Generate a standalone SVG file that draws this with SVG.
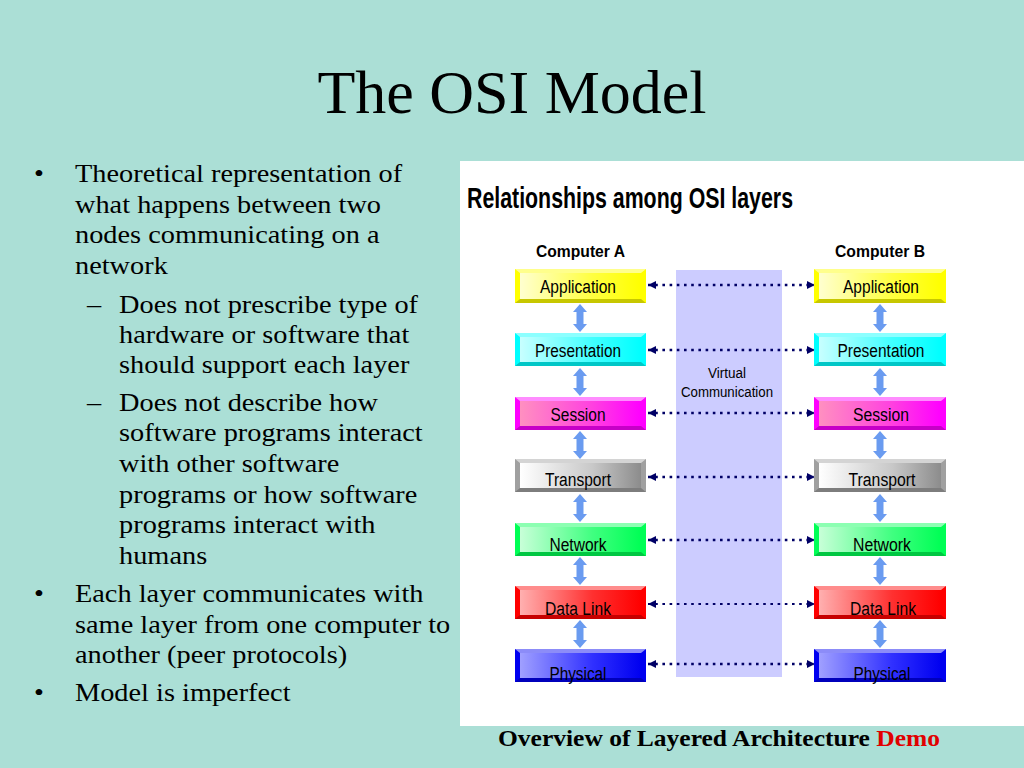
<svg xmlns="http://www.w3.org/2000/svg" width="1024" height="768" viewBox="0 0 1024 768">
<defs>
<style>
.bg{fill:#ABDFD6}
.title{font-family:"Liberation Serif","Times New Roman",serif;font-size:62px;fill:#000}
.body{font-family:"Liberation Serif","Times New Roman",serif;font-size:26px;fill:#000}
.foot{font-family:"Liberation Serif","Times New Roman",serif;font-size:24px;font-weight:bold;fill:#000}
.narrow{font-family:"Liberation Sans Narrow","Liberation Sans",Arial,sans-serif;font-stretch:condensed;fill:#000}
.h1{font-size:29px;font-weight:bold}
.comp{font-size:17px;font-weight:bold}
.lbl{font-size:18px;text-anchor:middle}
.vc{font-size:14px;text-anchor:middle}
.peer{stroke:#000066;stroke-width:2.6;stroke-dasharray:2.6 4.6;fill:none;marker-start:url(#ah);marker-end:url(#ah)}
.hi{fill:#fff;fill-opacity:0.55}
.lo{fill:#000;fill-opacity:0.22}
.va{fill:#6A9BF0}
</style>
<marker id="ah" viewBox="0 0 8 8" refX="8" refY="4" markerWidth="8" markerHeight="8" markerUnits="userSpaceOnUse" orient="auto-start-reverse">
<path d="M0,0 L8,4 L0,8 Z" fill="#000066"/>
</marker>
<path id="dbl" d="M0,0 L7,8 L3.5,8 L3.5,20 L7,20 L0,28 L-7,20 L-3.5,20 L-3.5,8 L-7,8 Z"/>
<linearGradient id="gY" x1="0" y1="0" x2="1" y2="0"><stop offset="0" stop-color="#FFFFD0"/><stop offset="0.6" stop-color="#FFFF40"/><stop offset="1" stop-color="#FFFF00"/></linearGradient>
<linearGradient id="gC" x1="0" y1="0" x2="1" y2="0"><stop offset="0" stop-color="#C8FFFF"/><stop offset="0.6" stop-color="#40FFFF"/><stop offset="1" stop-color="#00FFFF"/></linearGradient>
<linearGradient id="gM" x1="0" y1="0" x2="1" y2="0"><stop offset="0" stop-color="#FF90C0"/><stop offset="0.6" stop-color="#FF40E0"/><stop offset="1" stop-color="#FF00FF"/></linearGradient>
<linearGradient id="gG" x1="0" y1="0" x2="1" y2="0"><stop offset="0" stop-color="#FFFFFF"/><stop offset="0.6" stop-color="#C8C8C8"/><stop offset="1" stop-color="#8C8C8C"/></linearGradient>
<linearGradient id="gN" x1="0" y1="0" x2="1" y2="0"><stop offset="0" stop-color="#C8FFD8"/><stop offset="0.6" stop-color="#40FF80"/><stop offset="1" stop-color="#00FF55"/></linearGradient>
<linearGradient id="gR" x1="0" y1="0" x2="1" y2="0"><stop offset="0" stop-color="#FFB0B0"/><stop offset="0.6" stop-color="#FF3030"/><stop offset="1" stop-color="#FF0000"/></linearGradient>
<linearGradient id="gB" x1="0" y1="0" x2="1" y2="0"><stop offset="0" stop-color="#A0A0FF"/><stop offset="0.6" stop-color="#3030FF"/><stop offset="1" stop-color="#0000F0"/></linearGradient>
</defs>

<rect class="bg" x="0" y="0" width="1024" height="768"/>
<text class="title" x="512" y="113" text-anchor="middle">The OSI Model</text>

<g id="bullets" transform="translate(75,0) scale(1.09,1) translate(-75,0)">
<text class="body" x="37.5" y="182">•</text>
<text class="body" x="75" y="182">Theoretical representation of</text>
<text class="body" x="75" y="213">what happens between two</text>
<text class="body" x="75" y="243">nodes communicating on a</text>
<text class="body" x="75" y="274">network</text>
<text class="body" x="86" y="313">–</text>
<text class="body" x="115.4" y="313">Does not prescribe type of</text>
<text class="body" x="115.4" y="343">hardware or software that</text>
<text class="body" x="115.4" y="373">should support each layer</text>
<text class="body" x="86" y="411">–</text>
<text class="body" x="115.4" y="411">Does not describe how</text>
<text class="body" x="115.4" y="441">software programs interact</text>
<text class="body" x="115.4" y="472">with other software</text>
<text class="body" x="115.4" y="503">programs or how software</text>
<text class="body" x="115.4" y="533">programs interact with</text>
<text class="body" x="115.4" y="564">humans</text>
<text class="body" x="37.5" y="602">•</text>
<text class="body" x="75" y="602">Each layer communicates with</text>
<text class="body" x="75" y="633">same layer from one computer to</text>
<text class="body" x="75" y="663">another (peer protocols)</text>
<text class="body" x="37.5" y="701">•</text>
<text class="body" x="75" y="701">Model is imperfect</text>
</g>

<rect x="460" y="161" width="564" height="565" fill="#FFFFFF"/>
<text class="narrow h1" x="467" y="208" textLength="326" lengthAdjust="spacingAndGlyphs">Relationships among OSI layers</text>
<text class="narrow comp" x="536" y="257" textLength="89" lengthAdjust="spacingAndGlyphs">Computer A</text>
<text class="narrow comp" x="835" y="257" textLength="90" lengthAdjust="spacingAndGlyphs">Computer B</text>

<g id="virtual">
<rect x="676" y="270" width="106" height="407" fill="#CCCCFF"/>
<text class="narrow vc" x="727" y="378" textLength="38" lengthAdjust="spacingAndGlyphs">Virtual</text>
<text class="narrow vc" x="727" y="397" textLength="92" lengthAdjust="spacingAndGlyphs">Communication</text>
</g>

<g id="connectors">
<line class="peer" x1="648" y1="285" x2="815" y2="285"/>
<line class="peer" x1="648" y1="350" x2="815" y2="350"/>
<line class="peer" x1="648" y1="413" x2="815" y2="413"/>
<line class="peer" x1="648" y1="477" x2="815" y2="477"/>
<line class="peer" x1="648" y1="540" x2="815" y2="540"/>
<line class="peer" x1="648" y1="604" x2="815" y2="604" style="stroke-width:2"/>
<line class="peer" x1="648" y1="664" x2="815" y2="664"/>
<use href="#dbl" class="va" x="580" y="304"/>
<use href="#dbl" class="va" x="580" y="368"/>
<use href="#dbl" class="va" x="580" y="431"/>
<use href="#dbl" class="va" x="580" y="494"/>
<use href="#dbl" class="va" x="580" y="557"/>
<use href="#dbl" class="va" x="580" y="620"/>
<use href="#dbl" class="va" x="880" y="304"/>
<use href="#dbl" class="va" x="880" y="368"/>
<use href="#dbl" class="va" x="880" y="431"/>
<use href="#dbl" class="va" x="880" y="494"/>
<use href="#dbl" class="va" x="880" y="557"/>
<use href="#dbl" class="va" x="880" y="620"/>
</g>

<!-- Computer A layers -->
<g id="a-application">
<rect x="515" y="269" width="131" height="34" fill="#FFFF00"/>
<path class="hi" d="M515,269 h131 l-5,4 h-121 z"/>
<path class="lo" d="M515,303 h131 l-5,-4 h-121 z"/>
<rect x="520" y="273" width="121" height="26" fill="url(#gY)"/>
<text class="narrow lbl" x="578" y="293" textLength="76" lengthAdjust="spacingAndGlyphs">Application</text>
</g>
<g id="a-presentation">
<rect x="515" y="333" width="131" height="33" fill="#00FFFF"/>
<path class="hi" d="M515,333 h131 l-5,4 h-121 z"/>
<path class="lo" d="M515,366 h131 l-5,-4 h-121 z"/>
<rect x="520" y="337" width="121" height="25" fill="url(#gC)"/>
<text class="narrow lbl" x="578" y="357" textLength="86" lengthAdjust="spacingAndGlyphs">Presentation</text>
</g>
<g id="a-session">
<rect x="515" y="397" width="131" height="33" fill="#FF00FF"/>
<path class="hi" d="M515,397 h131 l-5,4 h-121 z"/>
<path class="lo" d="M515,430 h131 l-5,-4 h-121 z"/>
<rect x="520" y="401" width="121" height="25" fill="url(#gM)"/>
<text class="narrow lbl" x="578" y="421" textLength="55" lengthAdjust="spacingAndGlyphs">Session</text>
</g>
<g id="a-transport">
<rect x="515" y="459" width="131" height="33" fill="#A0A0A0"/>
<path class="hi" d="M515,459 h131 l-5,4 h-121 z"/>
<path class="lo" d="M515,492 h131 l-5,-4 h-121 z"/>
<rect x="520" y="463" width="121" height="25" fill="url(#gG)"/>
<text class="narrow lbl" x="578" y="486" textLength="66" lengthAdjust="spacingAndGlyphs">Transport</text>
</g>
<g id="a-network">
<rect x="515" y="523" width="131" height="33" fill="#00FF55"/>
<path class="hi" d="M515,523 h131 l-5,4 h-121 z"/>
<path class="lo" d="M515,556 h131 l-5,-4 h-121 z"/>
<rect x="520" y="527" width="121" height="25" fill="url(#gN)"/>
<text class="narrow lbl" x="578" y="551" textLength="57" lengthAdjust="spacingAndGlyphs">Network</text>
</g>
<g id="a-datalink">
<rect x="515" y="586" width="131" height="33" fill="#FF0000"/>
<path class="hi" d="M515,586 h131 l-5,4 h-121 z"/>
<path class="lo" d="M515,619 h131 l-5,-4 h-121 z"/>
<rect x="520" y="590" width="121" height="25" fill="url(#gR)"/>
<text class="narrow lbl" x="578" y="615" textLength="66" lengthAdjust="spacingAndGlyphs">Data Link</text>
</g>
<g id="a-physical">
<rect x="515" y="649" width="131" height="33" fill="#0000F0"/>
<path class="hi" d="M515,649 h131 l-5,4 h-121 z"/>
<path class="lo" d="M515,682 h131 l-5,-4 h-121 z"/>
<rect x="520" y="653" width="121" height="25" fill="url(#gB)"/>
<text class="narrow lbl" x="578" y="680" textLength="57" lengthAdjust="spacingAndGlyphs">Physical</text>
</g>

<!-- Computer B layers -->
<g id="b-application">
<rect x="814" y="269" width="132" height="34" fill="#FFFF00"/>
<path class="hi" d="M814,269 h132 l-5,4 h-122 z"/>
<path class="lo" d="M814,303 h132 l-5,-4 h-122 z"/>
<rect x="819" y="273" width="122" height="26" fill="url(#gY)"/>
<text class="narrow lbl" x="881" y="293" textLength="76" lengthAdjust="spacingAndGlyphs">Application</text>
</g>
<g id="b-presentation">
<rect x="814" y="333" width="132" height="33" fill="#00FFFF"/>
<path class="hi" d="M814,333 h132 l-5,4 h-122 z"/>
<path class="lo" d="M814,366 h132 l-5,-4 h-122 z"/>
<rect x="819" y="337" width="122" height="25" fill="url(#gC)"/>
<text class="narrow lbl" x="881" y="357" textLength="87" lengthAdjust="spacingAndGlyphs">Presentation</text>
</g>
<g id="b-session">
<rect x="814" y="397" width="132" height="33" fill="#FF00FF"/>
<path class="hi" d="M814,397 h132 l-5,4 h-122 z"/>
<path class="lo" d="M814,430 h132 l-5,-4 h-122 z"/>
<rect x="819" y="401" width="122" height="25" fill="url(#gM)"/>
<text class="narrow lbl" x="881" y="421" textLength="56" lengthAdjust="spacingAndGlyphs">Session</text>
</g>
<g id="b-transport">
<rect x="814" y="459" width="132" height="33" fill="#A0A0A0"/>
<path class="hi" d="M814,459 h132 l-5,4 h-122 z"/>
<path class="lo" d="M814,492 h132 l-5,-4 h-122 z"/>
<rect x="819" y="463" width="122" height="25" fill="url(#gG)"/>
<text class="narrow lbl" x="882" y="486" textLength="67" lengthAdjust="spacingAndGlyphs">Transport</text>
</g>
<g id="b-network">
<rect x="814" y="523" width="132" height="33" fill="#00FF55"/>
<path class="hi" d="M814,523 h132 l-5,4 h-122 z"/>
<path class="lo" d="M814,556 h132 l-5,-4 h-122 z"/>
<rect x="819" y="527" width="122" height="25" fill="url(#gN)"/>
<text class="narrow lbl" x="882" y="551" textLength="58" lengthAdjust="spacingAndGlyphs">Network</text>
</g>
<g id="b-datalink">
<rect x="814" y="586" width="132" height="33" fill="#FF0000"/>
<path class="hi" d="M814,586 h132 l-5,4 h-122 z"/>
<path class="lo" d="M814,619 h132 l-5,-4 h-122 z"/>
<rect x="819" y="590" width="122" height="25" fill="url(#gR)"/>
<text class="narrow lbl" x="883" y="615" textLength="66" lengthAdjust="spacingAndGlyphs">Data Link</text>
</g>
<g id="b-physical">
<rect x="814" y="649" width="132" height="33" fill="#0000F0"/>
<path class="hi" d="M814,649 h132 l-5,4 h-122 z"/>
<path class="lo" d="M814,682 h132 l-5,-4 h-122 z"/>
<rect x="819" y="653" width="122" height="25" fill="url(#gB)"/>
<text class="narrow lbl" x="882" y="680" textLength="57" lengthAdjust="spacingAndGlyphs">Physical</text>
</g>

<text class="foot" x="498" y="746" textLength="442" lengthAdjust="spacingAndGlyphs">Overview of Layered Architecture <tspan fill="#E00000">Demo</tspan></text>
</svg>
